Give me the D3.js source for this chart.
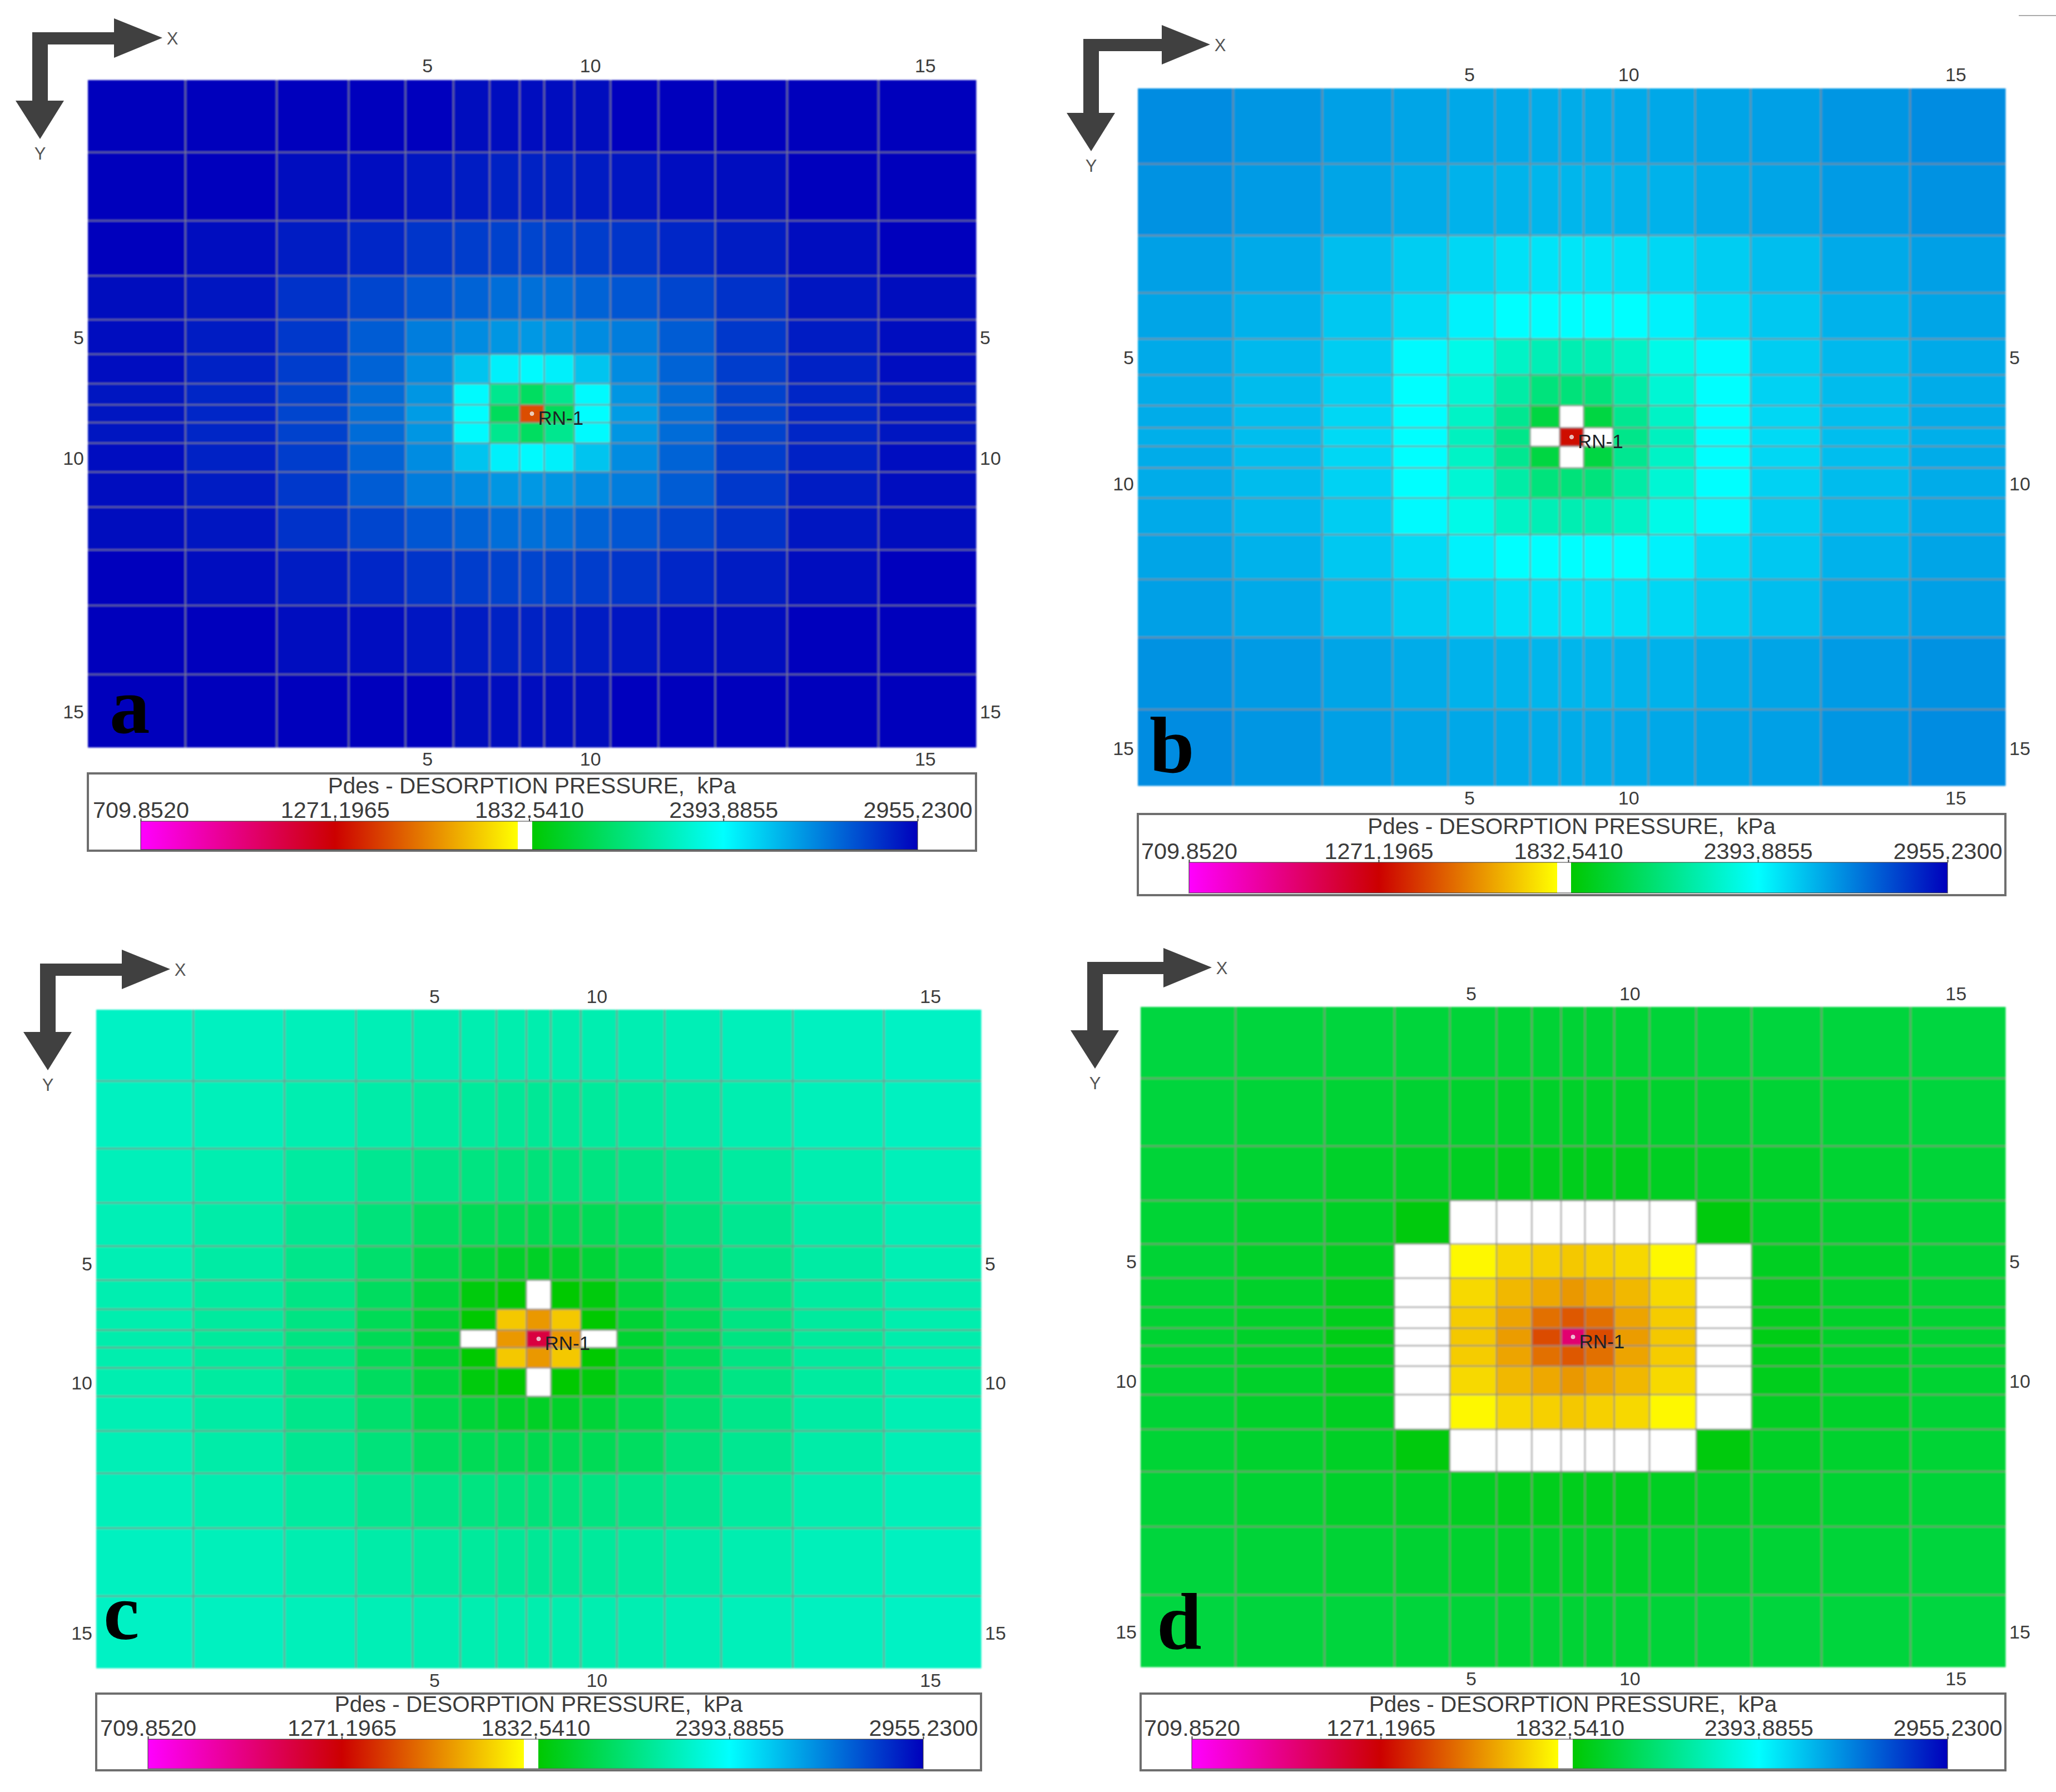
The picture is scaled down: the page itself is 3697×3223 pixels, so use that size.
<!DOCTYPE html>
<html>
<head>
<meta charset="utf-8">
<script src="https://cdn.jsdelivr.net/npm/d3@7"></script>
<style>
body { margin: 0; background: #fff; }
text { font-family: "Liberation Sans", Arial, sans-serif; }
</style>
</head>
<body>
<script>
// grid block sizes, same simulation grid in all four panels
var xCells = [175, 164, 129, 102, 86, 65, 54, 44, 54, 65, 86, 102, 129, 164, 175];
var yCells = [130, 123, 99, 79, 62, 53, 38, 32, 37, 52, 63, 77, 100, 124, 131];
var gridTicks = [5, 10, 15];
var legendTicks = [709.8520, 1271.1965, 1832.5410, 2393.8855, 2955.2300];
var legendTitle = "Pdes - DESORPTION PRESSURE,  kPa";
var wellName = "RN-1";
var wellCell = [8, 8];

var colorStops = [709.852, 1271.2, 1799, 1799.01, 1841, 1841.01, 2393.9, 2955.23];
var colorValues = ["#ff00ff", "#cc0000", "#ffff00", "#ffffff", "#ffffff", "#00c800", "#00ffff", "#0000bc"];

// pressure per grid block, kPa
var pressureA = [
    [2955,2955,2951,2946,2942,2937,2933,2933,2933,2937,2942,2946,2951,2955,2955],
    [2955,2946,2933,2920,2907,2893,2885,2885,2885,2893,2907,2920,2933,2946,2955],
    [2946,2929,2898,2867,2841,2823,2810,2805,2810,2823,2841,2867,2898,2929,2946],
    [2937,2911,2849,2805,2766,2735,2713,2709,2713,2735,2766,2805,2849,2911,2937],
    [2929,2893,2832,2753,2680,2647,2625,2621,2625,2647,2680,2753,2832,2893,2929],
    [2920,2876,2819,2735,2647,2524,2427,2405,2427,2524,2647,2735,2819,2876,2920],
    [2915,2871,2810,2717,2625,2405,2150,2050,2150,2405,2625,2717,2810,2871,2915],
    [2911,2867,2805,2709,2612,2396,2040,1430,2040,2396,2612,2709,2805,2867,2911],
    [2915,2871,2810,2717,2625,2405,2150,2050,2150,2405,2625,2717,2810,2871,2915],
    [2920,2876,2819,2735,2647,2524,2427,2405,2427,2524,2647,2735,2819,2876,2920],
    [2929,2893,2832,2753,2680,2647,2625,2621,2625,2647,2680,2753,2832,2893,2929],
    [2937,2911,2849,2805,2766,2735,2713,2709,2713,2735,2766,2805,2849,2911,2937],
    [2946,2929,2898,2867,2841,2823,2810,2805,2810,2823,2841,2867,2898,2929,2946],
    [2955,2946,2933,2920,2907,2893,2885,2885,2885,2893,2907,2920,2933,2946,2955],
    [2955,2955,2951,2946,2942,2937,2933,2933,2933,2937,2942,2946,2951,2955,2955]
];
var pressureB = [
    [2647,2625,2603,2592,2585,2581,2577,2577,2577,2581,2585,2592,2603,2625,2647],
    [2634,2614,2592,2577,2563,2559,2555,2555,2555,2559,2563,2577,2592,2614,2634],
    [2603,2581,2537,2504,2482,2460,2453,2449,2453,2460,2482,2504,2537,2581,2603],
    [2592,2563,2515,2471,2423,2394,2394,2394,2394,2394,2423,2471,2515,2563,2592],
    [2581,2548,2504,2405,2343,2270,2235,2228,2235,2270,2343,2405,2504,2548,2581],
    [2577,2541,2493,2394,2300,2200,2110,2105,2110,2200,2300,2394,2493,2541,2577],
    [2577,2537,2482,2394,2270,2155,1985,1820,1985,2155,2270,2394,2482,2537,2577],
    [2570,2537,2475,2394,2255,2140,1820,1290,1820,2140,2255,2394,2475,2537,2570],
    [2577,2537,2482,2394,2270,2155,1985,1820,1985,2155,2270,2394,2482,2537,2577],
    [2577,2541,2493,2394,2300,2200,2110,2105,2110,2200,2300,2394,2493,2541,2577],
    [2581,2548,2504,2405,2343,2270,2235,2228,2235,2270,2343,2405,2504,2548,2581],
    [2592,2563,2515,2471,2423,2394,2394,2394,2394,2394,2423,2471,2515,2563,2592],
    [2603,2581,2537,2504,2482,2460,2453,2449,2453,2460,2482,2504,2537,2581,2603],
    [2634,2614,2592,2577,2563,2559,2555,2555,2555,2559,2563,2577,2592,2614,2634],
    [2647,2625,2603,2592,2585,2581,2577,2577,2577,2581,2585,2592,2603,2625,2647]
];
var pressureC = [
    [2266,2257,2244,2236,2227,2223,2218,2218,2218,2223,2227,2236,2244,2257,2266],
    [2257,2244,2223,2205,2188,2179,2171,2166,2171,2179,2188,2205,2223,2244,2257],
    [2244,2223,2188,2155,2135,2120,2110,2105,2110,2120,2135,2155,2188,2223,2244],
    [2236,2205,2155,2105,2050,2030,2020,2015,2020,2030,2050,2105,2155,2205,2236],
    [2231,2197,2140,2075,2010,1965,1930,1925,1930,1965,2010,2075,2140,2197,2231],
    [2223,2188,2130,2045,1975,1870,1850,1820,1850,1870,1975,2045,2130,2188,2223],
    [2218,2184,2125,2030,1955,1850,1685,1586,1685,1850,1955,2030,2125,2184,2218],
    [2214,2180,2122,2025,1950,1820,1586,1131,1586,1820,1950,2025,2122,2180,2214],
    [2218,2184,2125,2030,1955,1850,1685,1586,1685,1850,1955,2030,2125,2184,2218],
    [2223,2188,2130,2045,1975,1870,1850,1820,1850,1870,1975,2045,2130,2188,2223],
    [2231,2197,2140,2075,2010,1965,1930,1925,1930,1965,2010,2075,2140,2197,2231],
    [2236,2205,2155,2105,2050,2030,2020,2015,2020,2030,2050,2105,2155,2205,2236],
    [2244,2223,2188,2155,2135,2120,2110,2105,2110,2120,2135,2155,2188,2223,2244],
    [2257,2244,2223,2205,2188,2179,2171,2166,2171,2179,2188,2205,2223,2244,2257],
    [2266,2257,2244,2236,2227,2223,2218,2218,2218,2223,2227,2236,2244,2257,2266]
];
var pressureD = [
    [1980,1975,1971,1967,1962,1958,1954,1954,1954,1958,1962,1967,1971,1975,1980],
    [1971,1962,1954,1945,1941,1936,1932,1932,1932,1936,1941,1945,1954,1962,1971],
    [1962,1949,1936,1923,1910,1906,1902,1902,1902,1906,1910,1923,1936,1949,1962],
    [1958,1941,1923,1865,1820,1820,1820,1820,1820,1820,1820,1865,1923,1941,1958],
    [1954,1936,1910,1820,1785,1718,1702,1685,1702,1718,1785,1820,1910,1936,1954],
    [1950,1932,1902,1820,1720,1652,1619,1586,1619,1652,1720,1820,1902,1932,1950],
    [1949,1930,1898,1820,1693,1611,1503,1453,1503,1611,1693,1820,1898,1930,1949],
    [1949,1930,1896,1820,1685,1594,1428,1024,1428,1594,1685,1820,1896,1930,1949],
    [1949,1930,1898,1820,1693,1611,1503,1453,1503,1611,1693,1820,1898,1930,1949],
    [1950,1932,1902,1820,1720,1652,1619,1586,1619,1652,1720,1820,1902,1932,1950],
    [1954,1936,1910,1820,1785,1718,1702,1685,1702,1718,1785,1820,1910,1936,1954],
    [1958,1941,1923,1865,1820,1820,1820,1820,1820,1820,1820,1865,1923,1941,1958],
    [1962,1949,1936,1923,1910,1906,1902,1902,1902,1906,1910,1923,1936,1949,1962],
    [1971,1962,1954,1945,1941,1936,1932,1932,1932,1936,1941,1945,1954,1962,1971],
    [1980,1975,1971,1967,1962,1958,1954,1954,1954,1958,1962,1967,1971,1975,1980]
];

var width = 3697;
var height = 3223;

var svg = d3.select("body").append("svg")
    .attr("width", width)
    .attr("height", height)
    .style("display", "block");

svg.append("rect").attr("width", width).attr("height", height).attr("fill", "#fff");

var defs = svg.append("defs");
defs.append("filter").attr("id", "soft")
    .attr("x", "-2%").attr("y", "-2%").attr("width", "104%").attr("height", "104%")
    .append("feGaussianBlur").attr("stdDeviation", 1.6);

var colorScale = d3.scaleLinear().domain(colorStops).range(colorValues);

var xEdges = [0].concat(Array.from(d3.cumsum(xCells)));
var yEdges = [0].concat(Array.from(d3.cumsum(yCells)));

function centre(edges, n) {
    return (edges[n - 1] + edges[n]) / 2;
}

function styleAxis(g, size) {
    g.select(".domain").remove();
    g.attr("font-size", size)
        .attr("font-family", "'Liberation Sans', Arial, sans-serif")
        .attr("fill", "#3c3c3c");
    g.selectAll("text").attr("fill", "#3c3c3c");
}

function drawPanel(p) {
    var panel = svg.append("g");

    var xScale = d3.scaleLinear().domain([0, d3.sum(xCells)]).range([p.left, p.right]);
    var yScale = d3.scaleLinear().domain([0, d3.sum(yCells)]).range([p.top, p.bottom]);

    var heat = panel.append("g").attr("filter", "url(#soft)");

    // blocks
    var cells = [];
    p.values.forEach(function(row, j) {
        row.forEach(function(v, i) {
            cells.push({ i: i, j: j, v: v });
        });
    });
    heat.append("g")
        .selectAll("rect")
        .data(cells)
        .enter()
        .append("rect")
        .attr("x", function(d) { return xScale(xEdges[d.i]); })
        .attr("y", function(d) { return yScale(yEdges[d.j]); })
        .attr("width", function(d) { return xScale(xEdges[d.i + 1]) - xScale(xEdges[d.i]) + 0.5; })
        .attr("height", function(d) { return yScale(yEdges[d.j + 1]) - yScale(yEdges[d.j]) + 0.5; })
        .attr("fill", function(d) { return colorScale(d.v); });

    // grid lines
    heat.append("g")
        .selectAll("line")
        .data(xEdges.slice(1, -1))
        .enter()
        .append("line")
        .attr("x1", function(d) { return xScale(d); })
        .attr("x2", function(d) { return xScale(d); })
        .attr("y1", p.top)
        .attr("y2", p.bottom)
        .attr("stroke", "#8a8a8a")
        .attr("stroke-opacity", 0.65)
        .attr("stroke-width", 3);
    heat.append("g")
        .selectAll("line")
        .data(yEdges.slice(1, -1))
        .enter()
        .append("line")
        .attr("x1", p.left)
        .attr("x2", p.right)
        .attr("y1", function(d) { return yScale(d); })
        .attr("y2", function(d) { return yScale(d); })
        .attr("stroke", "#8a8a8a")
        .attr("stroke-opacity", 0.65)
        .attr("stroke-width", 3);

    // tick labels on all four sides
    var xTickPos = gridTicks.map(function(n) { return centre(xEdges, n); });
    var yTickPos = gridTicks.map(function(n) { return centre(yEdges, n); });
    var tickFormat = function(d, i) { return gridTicks[i]; };

    panel.append("g")
        .attr("transform", "translate(-4," + p.topLabel + ")")
        .call(d3.axisTop(xScale).tickValues(xTickPos).tickFormat(tickFormat).tickSize(0).tickPadding(0))
        .call(styleAxis, 34);
    panel.append("g")
        .attr("transform", "translate(-4," + p.bottomLabel + ")")
        .call(d3.axisTop(xScale).tickValues(xTickPos).tickFormat(tickFormat).tickSize(0).tickPadding(0))
        .call(styleAxis, 34);
    panel.append("g")
        .attr("transform", "translate(" + (p.left - 7) + ",2)")
        .call(d3.axisLeft(yScale).tickValues(yTickPos).tickFormat(tickFormat).tickSize(0).tickPadding(0))
        .call(styleAxis, 34);
    panel.append("g")
        .attr("transform", "translate(" + (p.right + 7) + ",2)")
        .call(d3.axisRight(yScale).tickValues(yTickPos).tickFormat(tickFormat).tickSize(0).tickPadding(0))
        .call(styleAxis, 34);

    // well marker
    var wellX = xScale(centre(xEdges, wellCell[0]));
    var wellY = yScale(centre(yEdges, wellCell[1]));
    panel.append("circle")
        .attr("cx", wellX)
        .attr("cy", wellY)
        .attr("r", 3.5)
        .attr("fill", "#fff")
        .attr("fill-opacity", 0.7)
        .attr("stroke", "#ddd")
        .attr("stroke-width", 1);
    panel.append("text")
        .attr("x", wellX + 11)
        .attr("y", wellY + 20)
        .attr("font-size", 35)
        .attr("fill", "#1c2226")
        .text(wellName);

    // orientation arrows
    var ox = p.arrowX;
    var oy = p.arrowY;
    var hx = ox + 147 + p.arrowW;
    var vy = oy + 123 + p.arrowH;
    var arrow = [
        [ox, oy], [hx, oy], [hx, oy - 25], [hx + 87, oy + 10], [hx, oy + 46],
        [hx, oy + 22], [ox + 28, oy + 22], [ox + 28, vy], [ox + 57, vy],
        [ox + 14, vy + 69], [ox - 30, vy], [ox, vy]
    ];
    panel.append("path")
        .attr("d", d3.line()(arrow) + "Z")
        .attr("fill", "#404040");
    panel.append("text")
        .attr("x", hx + 105)
        .attr("y", oy + 22)
        .attr("text-anchor", "middle")
        .attr("font-size", 31)
        .attr("fill", "#555")
        .text("X");
    panel.append("text")
        .attr("x", ox + 14)
        .attr("y", vy + 106)
        .attr("text-anchor", "middle")
        .attr("font-size", 31)
        .attr("fill", "#555")
        .text("Y");

    // panel letter
    panel.append("text")
        .attr("x", p.letterX)
        .attr("y", p.letterY)
        .attr("font-size", 145)
        .attr("font-weight", "bold")
        .style("font-family", "'Liberation Serif', 'Times New Roman', serif")
        .attr("fill", "#000")
        .text(p.letter);

    // legend box
    var legend = panel.append("g");
    legend.append("rect")
        .attr("x", p.left)
        .attr("y", p.legendTop)
        .attr("width", p.right - p.left)
        .attr("height", p.legendBottom - p.legendTop)
        .attr("fill", "#fff")
        .attr("stroke", "#6e6e6e")
        .attr("stroke-width", 4);
    legend.append("text")
        .attr("x", (p.left + p.right) / 2)
        .attr("y", p.titleY)
        .attr("text-anchor", "middle")
        .attr("font-size", 40.5)
        .attr("xml:space", "preserve")
        .attr("fill", "#3c3c3c")
        .text(legendTitle);

    var barScale = d3.scaleLinear()
        .domain([legendTicks[0], legendTicks[4]])
        .range([p.barLeft, p.barRight]);

    var gradient = defs.append("linearGradient").attr("id", "bar" + p.letter);
    gradient.selectAll("stop")
        .data(colorStops)
        .enter()
        .append("stop")
        .attr("offset", function(d) { return (barScale(d) - p.barLeft) / (p.barRight - p.barLeft); })
        .attr("stop-color", function(d, i) { return colorValues[i]; });

    legend.append("rect")
        .attr("x", p.barLeft)
        .attr("y", p.barTop)
        .attr("width", p.barRight - p.barLeft)
        .attr("height", p.barBottom - p.barTop)
        .attr("fill", "url(#bar" + p.letter + ")")
        .attr("stroke", "#333")
        .attr("stroke-opacity", 0.5)
        .attr("stroke-width", 2);

    legend.append("g")
        .attr("transform", "translate(0," + p.barTop + ")")
        .call(d3.axisTop(barScale).tickValues(legendTicks).tickFormat(d3.format(".4f")).tickSize(5).tickPadding(1))
        .call(styleAxis, 41.5)
        .call(function(g) {
            g.selectAll("line").attr("stroke", "#444").attr("stroke-width", 2);
            g.selectAll("text").attr("dy", 0);
        });
}

drawPanel({
    letter: "a", values: pressureA,
    left: 158, right: 1755, top: 144, bottom: 1344,
    topLabel: 130, bottomLabel: 1377,
    arrowX: 58, arrowY: 58, arrowW: 0, arrowH: 0, letterX: 197, letterY: 1318,
    legendTop: 1391, legendBottom: 1530, titleY: 1427,
    barLeft: 253, barRight: 1650, barTop: 1477, barBottom: 1528
});
drawPanel({
    letter: "b", values: pressureB,
    left: 2046, right: 3606, top: 159, bottom: 1413,
    topLabel: 146, bottomLabel: 1447,
    arrowX: 1948, arrowY: 70, arrowW: -6, arrowH: 10, letterX: 2067, letterY: 1389,
    legendTop: 1464, legendBottom: 1610, titleY: 1500,
    barLeft: 2138, barRight: 3502, barTop: 1551, barBottom: 1606
});
drawPanel({
    letter: "c", values: pressureC,
    left: 173, right: 1764, top: 1816, bottom: 3000,
    topLabel: 1804, bottomLabel: 3034,
    arrowX: 72, arrowY: 1733, arrowW: 0, arrowH: 0, letterX: 186, letterY: 2948,
    legendTop: 3046, legendBottom: 3184, titleY: 3079,
    barLeft: 266, barRight: 1660, barTop: 3128, barBottom: 3181
});
drawPanel({
    letter: "d", values: pressureD,
    left: 2051, right: 3606, top: 1811, bottom: 2998,
    topLabel: 1799, bottomLabel: 3031,
    arrowX: 1955, arrowY: 1730, arrowW: -10, arrowH: 0, letterX: 2080, letterY: 2965,
    legendTop: 3046, legendBottom: 3184, titleY: 3079,
    barLeft: 2143, barRight: 3502, barTop: 3128, barBottom: 3181
});

// stray scan mark in the top right corner
svg.append("line")
    .attr("x1", 3630).attr("x2", 3697).attr("y1", 28).attr("y2", 28)
    .attr("stroke", "#aaa").attr("stroke-width", 2);
</script>
</body>
</html>
